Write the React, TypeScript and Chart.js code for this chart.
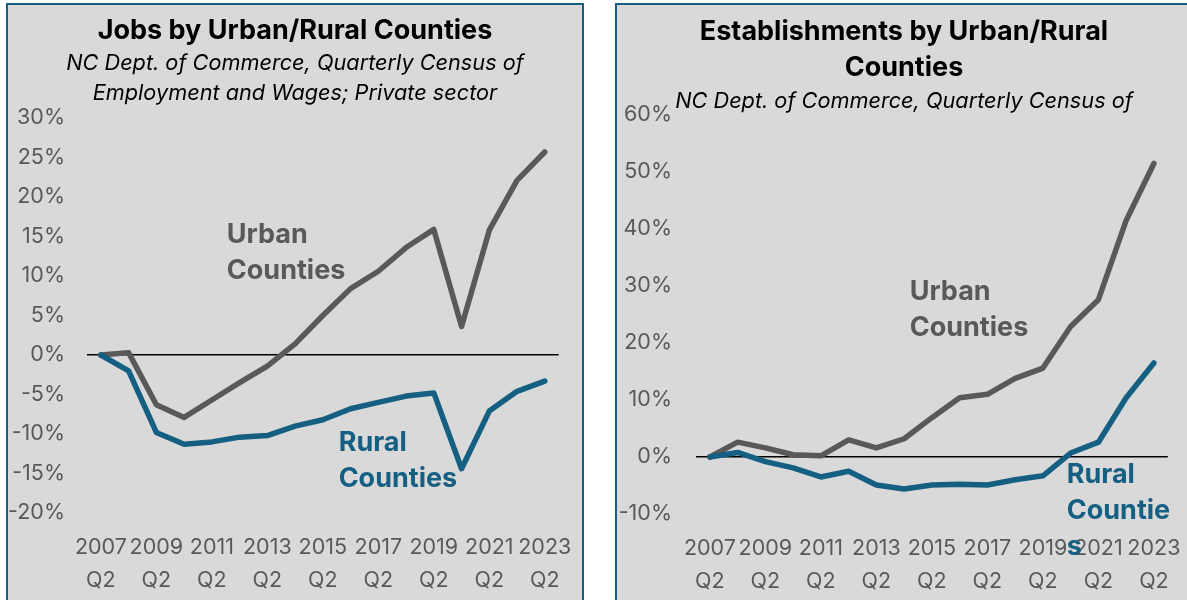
import React, { useEffect, useRef } from 'react';
import { Chart, registerables } from 'chart.js';

Chart.register(...registerables);

const categories = [
  '2007 Q2', '2008 Q2', '2009 Q2', '2010 Q2', '2011 Q2', '2012 Q2', '2013 Q2', '2014 Q2', '2015 Q2',
  '2016 Q2', '2017 Q2', '2018 Q2', '2019 Q2', '2020 Q2', '2021 Q2', '2022 Q2', '2023 Q2',
];

const jobsUrban = [0, 0.3, -6.3, -7.9, -5.7, -3.5, -1.4, 1.4, 5.0, 8.4, 10.6, 13.6, 15.9, 3.6, 15.8, 22.1, 25.7];
const jobsRural = [0, -2.0, -9.8, -11.3, -11.0, -10.4, -10.2, -9.0, -8.2, -6.8, -6.0, -5.2, -4.8, -14.4, -7.1, -4.6, -3.3];
const estUrban = [0, 2.6, 1.6, 0.4, 0.2, 3.0, 1.6, 3.2, 6.9, 10.4, 11.0, 13.8, 15.6, 22.9, 27.6, 41.5, 51.5];
const estRural = [0, 0.8, -0.8, -1.9, -3.5, -2.5, -4.9, -5.6, -4.9, -4.8, -4.9, -4.0, -3.3, 0.7, 2.6, 10.4, 16.5];

const jobsTitle = 'Jobs by Urban/Rural Counties';
const jobsSubtitle = ['NC Dept. of Commerce, Quarterly Census of', 'Employment and Wages; Private sector'];
const estTitle = ['Establishments by Urban/Rural', 'Counties'];
const estSubtitle = ['NC Dept. of Commerce, Quarterly Census of'];

const FONT = 'Inter, "Noto Sans", sans-serif';
const GRAY = '#595959';
const TEAL = '#156082';
const TITLE_SIZE = 27;
const SUB_SIZE = 21.7;
const TICK_SIZE = 21.5;
const ANN_SIZE = 27;

type Ann = { lines: string[]; x: number; y: number; color: string };

const seriesLabels = {
  id: 'seriesLabels',
  afterDatasetsDraw(chart: any, _args: any, opts: any) {
    const items: Ann[] = opts.items || [];
    const { ctx, scales } = chart;
    ctx.save();
    ctx.font = `bold ${opts.size}px ${FONT}`;
    ctx.textAlign = 'left';
    ctx.textBaseline = 'middle';
    items.forEach((a) => {
      const px = scales.x.getPixelForValue(a.x);
      const py = scales.y.getPixelForValue(a.y);
      ctx.fillStyle = a.color;
      a.lines.forEach((l, i) => ctx.fillText(l, px, py + i * opts.gap));
    });
    ctx.restore();
  },
};

interface Cfg {
  title: string | string[];
  titleLine: number;
  titlePadTop: number;
  subtitle: string[];
  subLine: number;
  subPadTop: number;
  subPadBottom: number;
  urban: number[];
  rural: number[];
  yMin: number;
  yMax: number;
  yStep: number;
  yPad: number;
  xHeight: number;
  rightPad: number;
  anns: Ann[];
}

function makeConfig(c: Cfg): any {
  return {
    type: 'line',
    data: {
      labels: categories,
      datasets: [
        {
          label: 'Urban Counties',
          data: c.urban,
          borderColor: GRAY,
          borderWidth: 5.5,
          pointRadius: 0,
          tension: 0,
          borderCapStyle: 'round',
          borderJoinStyle: 'round',
          order: 1,
        },
        {
          label: 'Rural Counties',
          data: c.rural,
          borderColor: TEAL,
          borderWidth: 5.5,
          pointRadius: 0,
          tension: 0,
          borderCapStyle: 'round',
          borderJoinStyle: 'round',
          order: 0,
        },
      ],
    },
    options: {
      responsive: false,
      animation: false,
      layout: { padding: 0 },
      plugins: {
        legend: { display: false },
        tooltip: { enabled: false },
        title: {
          display: true,
          text: c.title,
          color: '#000',
          font: { family: FONT, size: TITLE_SIZE, weight: 'bold', lineHeight: c.titleLine / TITLE_SIZE },
          padding: { top: c.titlePadTop, bottom: 0 },
        },
        subtitle: {
          display: true,
          text: c.subtitle,
          color: '#000',
          font: { family: FONT, size: SUB_SIZE, style: 'italic', lineHeight: c.subLine / SUB_SIZE },
          padding: { top: c.subPadTop, bottom: c.subPadBottom },
        },
        seriesLabels: { items: c.anns, size: ANN_SIZE, gap: 36 },
      },
      scales: {
        x: {
          type: 'category',
          offset: true,
          grid: { display: false },
          border: { display: false },
          ticks: {
            autoSkip: false,
            maxRotation: 0,
            minRotation: 0,
            padding: 10,
            color: GRAY,
            font: { family: FONT, size: TICK_SIZE, lineHeight: 33 / TICK_SIZE },
            callback: function (this: any, value: any, index: number) {
              return index % 2 === 0 ? String(this.getLabelForValue(value)).split(' ') : '';
            },
          },
          afterFit: (s: any) => {
            s.height = c.xHeight;
          },
        },
        y: {
          type: 'linear',
          position: 'left',
          min: c.yMin,
          max: c.yMax,
          border: { display: false },
          grid: {
            drawTicks: false,
            lineWidth: 1.5,
            color: (ctx: any) => (ctx.tick && ctx.tick.value === 0 ? '#000' : 'rgba(0,0,0,0)'),
          },
          ticks: {
            stepSize: c.yStep,
            padding: c.yPad,
            color: GRAY,
            font: { family: FONT, size: TICK_SIZE },
            callback: (v: any) => `${v}%`,
          },
          afterFit: (s: any) => {
            s.width = 79;
          },
        },
        yRight: {
          type: 'linear',
          position: 'right',
          display: true,
          grid: { display: false, drawTicks: false },
          border: { display: false },
          ticks: { display: false },
          afterFit: (s: any) => {
            s.width = c.rightPad;
          },
        },
      },
    },
    plugins: [seriesLabels],
  };
}

const jobsCfg: Cfg = {
  title: jobsTitle,
  titleLine: 30,
  titlePadTop: 11,
  subtitle: jobsSubtitle,
  subLine: 30,
  subPadTop: 2,
  subPadBottom: 10,
  urban: jobsUrban,
  rural: jobsRural,
  yMin: -20,
  yMax: 30,
  yStep: 5,
  yPad: 22,
  xHeight: 87,
  rightPad: 23,
  anns: [
    { lines: ['Urban', 'Counties'], x: 4.54, y: 15.2, color: GRAY },
    { lines: ['Rural', 'Counties'], x: 8.57, y: -11.1, color: TEAL },
  ],
};

const estCfg: Cfg = {
  title: estTitle,
  titleLine: 36,
  titlePadTop: 9,
  subtitle: estSubtitle,
  subLine: 24,
  subPadTop: 3,
  subPadBottom: 2,
  urban: estUrban,
  rural: estRural,
  yMin: -10,
  yMax: 60,
  yStep: 10,
  yPad: 24,
  xHeight: 86,
  rightPad: 19,
  anns: [
    { lines: ['Urban', 'Counties'], x: 7.2, y: 28.9, color: GRAY },
    { lines: ['Rural', 'Countie', 's'], x: 12.86, y: -3.2, color: TEAL },
  ],
};

function Panel({ left, cfg }: { left: number; cfg: Cfg }) {
  const ref = useRef<HTMLCanvasElement>(null);
  useEffect(() => {
    const chart = new Chart(ref.current as HTMLCanvasElement, makeConfig(cfg));
    return () => chart.destroy();
  }, []);
  return (
    <div
      style={{
        position: 'absolute',
        left,
        top: 3,
        width: 578,
        height: 640,
        boxSizing: 'border-box',
        border: `2px solid ${TEAL}`,
        background: '#d9d9d9',
      }}
    >
      <canvas ref={ref} width={574} height={595} style={{ display: 'block', width: 574, height: 595 }} />
    </div>
  );
}

export default function App() {
  return (
    <div
      style={{
        position: 'absolute',
        left: 0,
        top: 0,
        width: 1187,
        height: 600,
        overflow: 'hidden',
        background: '#fff',
      }}
    >
      <Panel left={6} cfg={jobsCfg} />
      <Panel left={615} cfg={estCfg} />
    </div>
  );
}
